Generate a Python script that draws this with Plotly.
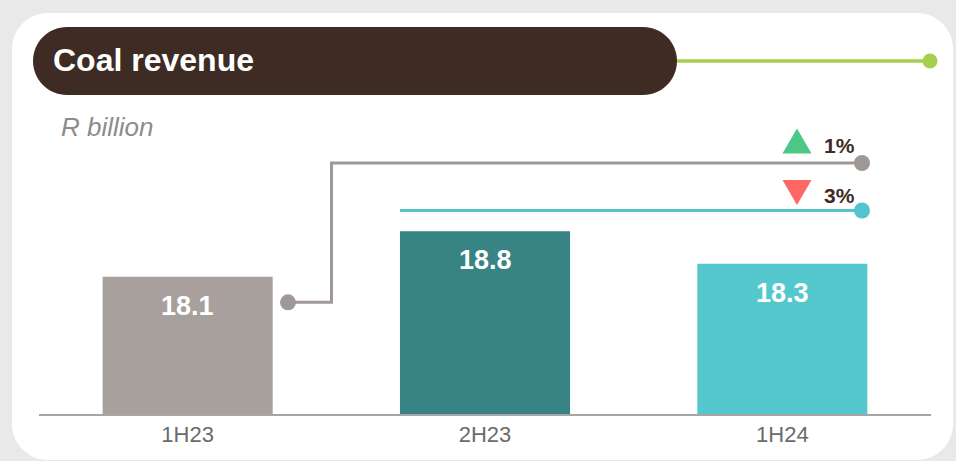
import plotly.graph_objects as go

# ---- data ----
categories = ["1H23", "2H23", "1H24"]
values = [18.1, 18.8, 18.3]
value_labels = ["18.1", "18.8", "18.3"]
bar_colors = ["#a8a09c", "#388384", "#55c8ce"]
pct_labels = ["1%", "3%"]
pct_up = [True, False]
title_text = "Coal revenue"
unit_text = "R billion"

# ---- layout constants ----
W, H = 956, 461
L, R, T, B = 39, 25, 20, 47
PW, PH = W - L - R, H - T - B
Y0 = 16.0
KPX = 65.3
Y1 = Y0 + PH / KPX
CAT_PX = PW / len(categories)


def px(x):
    return (x - L) / PW


def py(y):
    return (H - B - y) / PH


def dx(x):
    return -0.5 + (x - L) / CAT_PX


def dy(y):
    return Y0 + (H - B - y) / KPX


def rounded_path(l, t, r, b, rad):
    k = 0.5523 * rad
    pts = [
        f"M{px(l + rad)},{py(t)}",
        f"L{px(r - rad)},{py(t)}",
        f"C{px(r - rad + k)},{py(t)} {px(r)},{py(t + rad - k)} {px(r)},{py(t + rad)}",
        f"L{px(r)},{py(b - rad)}",
        f"C{px(r)},{py(b - rad + k)} {px(r - rad + k)},{py(b)} {px(r - rad)},{py(b)}",
        f"L{px(l + rad)},{py(b)}",
        f"C{px(l + rad - k)},{py(b)} {px(l)},{py(b - rad + k)} {px(l)},{py(b - rad)}",
        f"L{px(l)},{py(t + rad)}",
        f"C{px(l)},{py(t + rad - k)} {px(l + rad - k)},{py(t)} {px(l + rad)},{py(t)}",
        "Z",
    ]
    return " ".join(pts)


xs = list(range(len(categories)))
fig = go.Figure()

fig.add_trace(go.Bar(
    x=xs, y=[v - Y0 for v in values], base=Y0, width=0.572,
    marker=dict(color=bar_colors, line=dict(width=0)),
    hoverinfo="skip", showlegend=False,
))

# connector lines (gray: 1H23 -> 1H24, teal: 2H23 -> 1H24)
gray_level = dy(163)
teal_level = dy(210.5)
x_end = dx(862)
g_x = [dx(288), dx(331.5), dx(331.5), x_end]
g_y = [values[0] - 0.39, values[0] - 0.39, gray_level, gray_level]
fig.add_trace(go.Scatter(
    x=g_x, y=g_y, mode="lines",
    line=dict(color="#a09896", width=3),
    hoverinfo="skip", showlegend=False,
))
fig.add_trace(go.Scatter(
    x=[1 - 0.286, x_end], y=[teal_level, teal_level], mode="lines",
    line=dict(color="#55c3cb", width=3),
    hoverinfo="skip", showlegend=False,
))
fig.add_trace(go.Scatter(
    x=[g_x[0], x_end, x_end], y=[g_y[0], gray_level, teal_level], mode="markers",
    marker=dict(size=16, color=["#a09896", "#a09896", "#55c3cb"], opacity=1,
                line=dict(width=0)),
    hoverinfo="skip", showlegend=False,
))

shapes = []
# white card
shapes.append(dict(type="path", xref="paper", yref="paper", layer="below",
                   path=rounded_path(12, 13, 953, 460, 36),
                   fillcolor="#ffffff", line=dict(width=0)))
# title pill
shapes.append(dict(type="path", xref="paper", yref="paper",
                   path=rounded_path(33, 27, 677, 95, 34),
                   fillcolor="#3d2b24", line=dict(width=0)))
# green line + dot
shapes.append(dict(type="line", xref="paper", yref="paper",
                   x0=px(677), x1=px(930), y0=py(61), y1=py(61),
                   line=dict(color="#a5cf4c", width=3.5)))
shapes.append(dict(type="circle", xref="paper", yref="paper",
                   x0=px(922.5), x1=px(937.5), y0=py(53.5), y1=py(68.5),
                   fillcolor="#a5cf4c", line=dict(width=0)))

# triangles
tri_rows = [141, 192.5]
for up, cy in zip(pct_up, tri_rows):
    cx, hw, hh = 797, 14.5, 12.5
    if up:
        path = f"M{px(cx - hw)},{py(cy + hh)} L{px(cx + hw)},{py(cy + hh)} L{px(cx)},{py(cy - hh)} Z"
        col = "#4cc785"
    else:
        path = f"M{px(cx - hw)},{py(cy - hh)} L{px(cx + hw)},{py(cy - hh)} L{px(cx)},{py(cy + hh)} Z"
        col = "#ff6666"
    shapes.append(dict(type="path", xref="paper", yref="paper", path=path,
                       fillcolor=col, line=dict(width=0)))

annotations = []
annotations.append(dict(text=f"<b>{title_text}</b>", xref="paper", yref="paper",
                        x=px(51), y=py(60), xanchor="left", yanchor="middle",
                        showarrow=False,
                        font=dict(family="Liberation Sans, Arial", size=32, color="#ffffff")))
annotations.append(dict(text=f"<i>{unit_text}</i>", xref="paper", yref="paper",
                        x=px(59), y=py(127), xanchor="left", yanchor="middle",
                        showarrow=False,
                        font=dict(family="Liberation Sans, Arial", size=26, color="#8c8c8c")))
for x, v, lab in zip(xs, values, value_labels):
    annotations.append(dict(text=f"<b>{lab}</b>", x=x, y=v, yshift=-29,
                            xanchor="center", yanchor="middle", showarrow=False,
                            font=dict(family="Liberation Sans, Arial", size=27, color="#ffffff")))
for lab, cy in zip(pct_labels, [145.5, 195.5]):
    annotations.append(dict(text=f"<b>{lab}</b>", xref="paper", yref="paper",
                            x=px(822), y=py(cy), xanchor="left", yanchor="middle",
                            showarrow=False,
                            font=dict(family="Liberation Sans, Arial", size=21, color="#3d2b24")))

fig.update_layout(
    width=W, height=H,
    margin=dict(l=L, r=R, t=T, b=B, pad=0),
    paper_bgcolor="#e9e9e9",
    plot_bgcolor="rgba(0,0,0,0)",
    shapes=shapes,
    annotations=annotations,
    showlegend=False,
    xaxis=dict(range=[-0.5, 2.5], tickmode="array", tickvals=xs, ticktext=categories,
               showline=True, linecolor="#a6a6a6", linewidth=2, showgrid=False,
               zeroline=False, ticks="", fixedrange=True,
               tickfont=dict(family="Liberation Sans, Arial", size=22, color="#6b6b6b")),
    yaxis=dict(range=[Y0, Y1], visible=False, showgrid=False, zeroline=False, fixedrange=True),
)

fig.write_html("out.html", config={"displayModeBar": False},
               post_script="document.body.style.margin='0';document.body.style.background='#e9e9e9';")
